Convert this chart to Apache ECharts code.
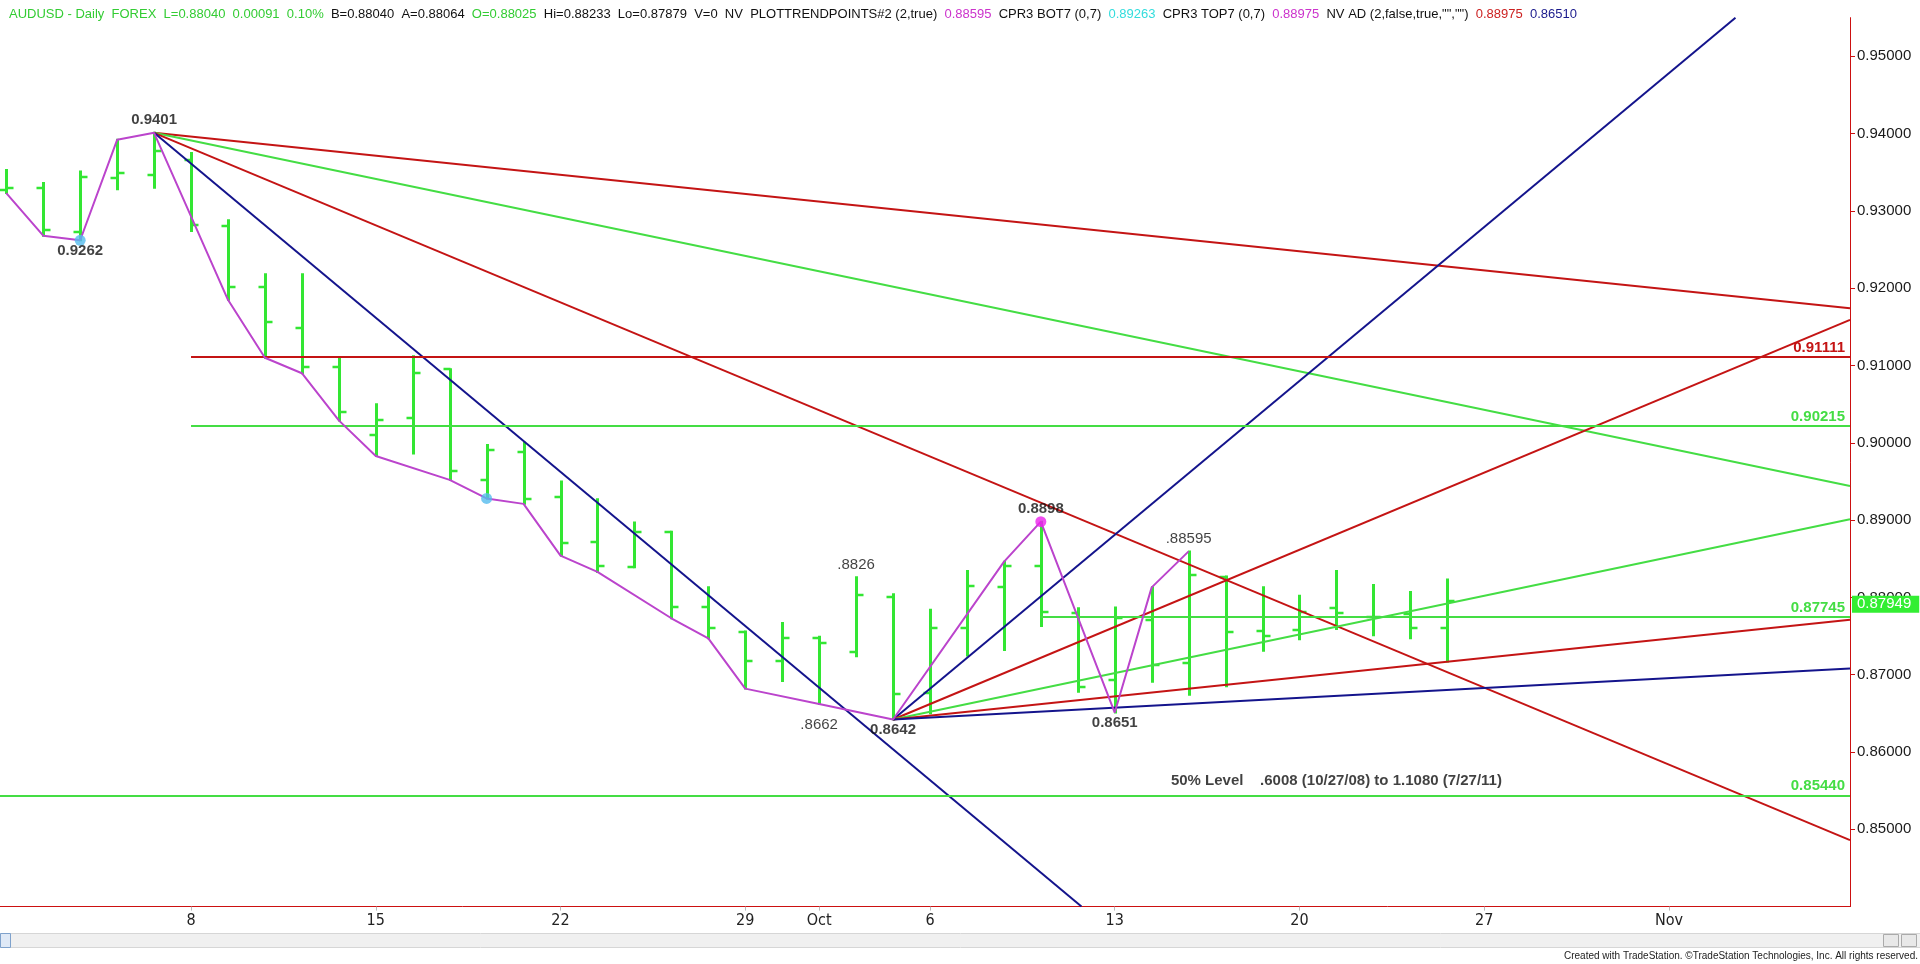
<!DOCTYPE html>
<html><head><meta charset="utf-8">
<script src="https://cdn.jsdelivr.net/npm/echarts@6/dist/echarts.min.js"></script>
<style>html,body{margin:0;padding:0;background:#fff;overflow:hidden}#c{width:1920px;height:964px}</style>
</head><body><div id="c"></div>
<script>
// ---- data: daily AUDUSD bars, index 0 = Sep 1 (trading-day index) ----
const opens  = [0.9327,0.9330,0.9273,0.9343,0.9347,0.9366,0.9280,0.9202,0.9149,0.9098,
                0.9010,0.9032,0.9095,0.8952,0.8988,0.8930,0.8872,0.8839,0.8885,0.8788,
                0.8755,0.8718,0.8747,0.8730,0.8801,0.8676,0.8761,0.8814,0.8841,0.8780,
                0.8693,0.8771,0.8715,0.8826,0.8756,0.8758,0.8786,0.8775,0.8779,0.8760];
const highs  = [0.9353,0.9336,0.9351,0.9392,0.9401,0.9375,0.9288,0.9218,0.9218,0.9111,
                0.9050,0.9112,0.9095,0.8997,0.9000,0.8950,0.8927,0.8897,0.8885,0.8813,
                0.8756,0.8767,0.8749,0.8826,0.8804,0.8784,0.8834,0.8846,0.8898,0.8786,
                0.8787,0.8813,0.88595,0.8827,0.8813,0.8802,0.8834,0.8816,0.8807,0.8823];
const lows   = [0.9323,0.9268,0.9262,0.9328,0.9330,0.9274,0.9185,0.9110,0.9090,0.9029,
                0.8983,0.8986,0.8952,0.8928,0.8921,0.8854,0.8833,0.8839,0.8773,0.8747,
                0.8682,0.8692,0.8662,0.8724,0.8642,0.8650,0.8725,0.8732,0.8763,0.8678,
                0.8651,0.8691,0.8674,0.8685,0.8731,0.8746,0.8759,0.8751,0.8747,0.8717];
const closes = [0.9330,0.9275,0.9344,0.9349,0.9377,0.9282,0.9201,0.9156,0.9098,0.9040,
                0.9029,0.9090,0.8963,0.8991,0.8927,0.8871,0.8841,0.8885,0.8788,0.8761,
                0.8718,0.8747,0.8741,0.8803,0.8675,0.8761,0.8815,0.8841,0.8781,0.8684,
                0.8773,0.8713,0.8829,0.8755,0.8750,0.8781,0.8780,0.8775,0.8761,0.87949];

const xTickIdx    = [5,10,15,20,22,25,30,35,40,45];
const xTickLabels = ['8','15','22','29','Oct','6','13','20','27','Nov'];
const yTicks      = [0.85,0.86,0.87,0.88,0.89,0.90,0.91,0.92,0.93,0.94,0.95];

// swing (zig-zag) points
const zzIdx = [0,1,2,3,4,6,7,8,9,10,12,13,14,15,16,18,19,20,22,24,27,28,30,31,32];
const zzVal = [0.9323,0.9268,0.9262,0.9392,0.9401,0.9185,0.9110,0.9090,0.9029,0.8983,
               0.8952,0.8928,0.8921,0.8854,0.8833,0.8773,0.8747,0.8682,0.8662,0.8642,
               0.8846,0.8898,0.8651,0.8813,0.88595];

// fan lines: from the 0.9401 top and from the 0.8642 bottom
const highAnchor = [4, 0.9401];
const highFanEnds = [[49.9,0.9174],[49.9,0.8944],[49.9,0.8486],[29.1,0.84]];
const lowAnchor = [24, 0.8642];
const lowFanEnds = [[46.8,0.955],[49.9,0.9159],[49.9,0.8901],[49.9,0.8771],[49.9,0.8708]];

// horizontal levels
const levelValues = [0.91111, 0.90215, 0.87745, 0.85440];
const levelStart  = [5, 5, 28, -0.17];

// swing labels
const annIdx   = [4, 2, 23, 22, 24, 28, 32, 30];
const annVal   = [0.9401, 0.9262, 0.8826, 0.8662, 0.8642, 0.8898, 0.88595, 0.8651];
const annText  = ['0.9401','0.9262','.8826','.8662','0.8642','0.8898','.88595','0.8651'];
const annAbove = [true, false, true, false, false, true, true, false];

const cyanDots    = [[2,0.9262],[13,0.8928]];
const magentaDots = [[28,0.8898]];
const noteText = '50% Level    .6008 (10/27/08) to 1.1080 (7/27/11)';
const notePos  = [36.0, 0.85625];

// ---- styles ----
const X_MIN = -0.17, X_MAX = 49.9, Y_MIN = 0.84, Y_MAX = 0.955;
const BAR = '#33e633', GREEN = '#44dd44', RED = '#c41414', BLUE = '#14148c', MAG = '#bb44cc';
const AXIS = '#cc1111';
const FONT = "'Liberation Sans', Arial, sans-serif";
const NARROW = "'Liberation Sans Narrow', 'DejaVu Sans Condensed', 'Liberation Sans', sans-serif";
const highFanColors = [RED, GREEN, RED, BLUE];
const lowFanColors  = [BLUE, RED, GREEN, RED, BLUE];
const levelColors   = [RED, GREEN, GREEN, GREEN];

const chart = echarts.init(document.getElementById('c'), null, {renderer: 'canvas'});
const ohlc = opens.map((o, i) => [i, o, highs[i], lows[i], closes[i]]);
const lastClose = closes[closes.length - 1];

const series = [];
series.push({
  type: 'custom', z: 2, clip: true, silent: true,
  data: ohlc, encode: {x: 0, y: [1,2,3,4]},
  renderItem: function (params, api) {
    const i = api.value(0);
    const o = api.coord([i, api.value(1)]);
    const h = api.coord([i, api.value(2)]);
    const l = api.coord([i, api.value(3)]);
    const c = api.coord([i, api.value(4)]);
    const x = Math.round(h[0]) + 0.5;
    const st = {stroke: BAR, lineWidth: 3};
    return {type: 'group', children: [
      {type: 'line', shape: {x1: x, y1: h[1] - 1, x2: x, y2: l[1] + 1}, style: st},
      {type: 'line', shape: {x1: x - 7, y1: Math.round(o[1]), x2: x, y2: Math.round(o[1])}, style: {stroke: BAR, lineWidth: 2.5}},
      {type: 'line', shape: {x1: x, y1: Math.round(c[1]), x2: x + 7, y2: Math.round(c[1])}, style: {stroke: BAR, lineWidth: 2.5}}
    ]};
  }
});

// horizontal levels with right-end labels
levelValues.forEach((v, k) => {
  series.push({
    type: 'line', data: [], z: 3, silent: true,
    markLine: {
      symbol: 'none', silent: true, animation: false,
      lineStyle: {color: levelColors[k], width: 2, type: 'solid'},
      label: {show: true, position: 'insideEndTop', distance: [5, 2], formatter: v.toFixed(5),
              color: levelColors[k], fontFamily: FONT, fontSize: 15, fontWeight: 'bold'},
      data: [[{coord: [levelStart[k], v]}, {coord: [X_MAX, v]}]]
    }
  });
});

highFanEnds.forEach((e, k) => {
  series.push({type: 'line', data: [highAnchor, e], symbol: 'none', z: 4, silent: true,
    lineStyle: {color: highFanColors[k], width: 2}});
});
lowFanEnds.forEach((e, k) => {
  series.push({type: 'line', data: [lowAnchor, e], symbol: 'none', z: 4, silent: true,
    lineStyle: {color: lowFanColors[k], width: 2}});
});

series.push({type: 'line', data: zzIdx.map((x, k) => [x, zzVal[k]]), symbol: 'none', z: 5, silent: true,
  lineStyle: {color: MAG, width: 2}});

series.push({type: 'scatter', data: cyanDots, symbolSize: 11, z: 6, silent: true,
  itemStyle: {color: '#55bbee'}});
series.push({type: 'scatter', data: magentaDots, symbolSize: 11, z: 6, silent: true,
  itemStyle: {color: '#ee22ee'}});

// swing labels
series.push({
  type: 'scatter', symbolSize: 0, z: 7, silent: true,
  data: annIdx.map((x, k) => ({
    value: [x, annVal[k]],
    label: {
      show: true, formatter: annText[k],
      position: annAbove[k] ? 'top' : 'bottom',
      distance: annText[k] === '.8662' ? 13 : (annAbove[k] ? 5 : 3),
      fontWeight: annText[k].charAt(0) === '.' ? 'normal' : 'bold'
    }
  })),
  label: {color: '#111', fontFamily: FONT, fontSize: 15}
});

// last close box on the price axis
series.push({
  type: 'line', data: [], z: 20, silent: true, clip: false,
  markLine: {
    symbol: 'none', silent: true, animation: false,
    lineStyle: {color: 'rgba(255,255,255,0)', width: 0},
    label: {show: true, position: 'end', distance: 2, offset: [0, 3], formatter: lastClose.toFixed(5),
            color: '#ffffff', backgroundColor: '#33ee33', padding: [1, 8, 1, 5],
            fontFamily: FONT, fontSize: 15, opacity: 1},
    data: [[{coord: [X_MAX - 1, lastClose]}, {coord: [X_MAX, lastClose]}]]
  }
});
// 50% note
series.push({
  type: 'scatter', symbolSize: 0, z: 7, silent: true,
  data: [{value: notePos, label: {show: true, position: 'inside', formatter: noteText,
    color: '#111', fontFamily: FONT, fontSize: 15, fontWeight: 'bold'}}]
});

const option = {
  backgroundColor: '#fff',
  animation: false,
  title: {
    left: 4, top: 3,
    text: '{g|AUDUSD - Daily  FOREX  L=0.88040  0.00091  0.10%}{k|  B=0.88040  A=0.88064  }{g|O=0.88025}' +
          '{k|  Hi=0.88233  Lo=0.87879  V=0  NV  PLOTTRENDPOINTS#2 (2,true)  }{m|0.88595}{k|  CPR3 BOT7 (0,7)  }' +
          '{c|0.89263}{k|  CPR3 TOP7 (0,7)  }{m|0.88975}{k|  NV AD (2,false,true,"","")  }{r|0.88975}{b|  0.86510}',
    textStyle: {
      fontFamily: FONT, fontSize: 13, fontWeight: 'normal',
      rich: {
        g: {color: '#33cc33', fontFamily: FONT, fontSize: 13},
        k: {color: '#111', fontFamily: FONT, fontSize: 13},
        m: {color: '#cc33cc', fontFamily: FONT, fontSize: 13},
        c: {color: '#33dddd', fontFamily: FONT, fontSize: 13},
        r: {color: '#cc2222', fontFamily: FONT, fontSize: 13},
        b: {color: '#1a1a8c', fontFamily: FONT, fontSize: 13}
      }
    }
  },
  grid: {left: 0, right: 70, top: 17.65, bottom: 57.4, containLabel: false},
  xAxis: {
    type: 'value', min: X_MIN, max: X_MAX,
    axisLine: {show: true, onZero: false, lineStyle: {color: AXIS, width: 1}},
    axisTick: {show: true, customValues: xTickIdx, length: 4, lineStyle: {color: '#bbb'}},
    axisLabel: {customValues: xTickIdx, margin: 6, color: '#222', fontFamily: NARROW, fontSize: 16,
      formatter: v => xTickLabels[xTickIdx.indexOf(v)]},
    splitLine: {show: false}
  },
  yAxis: {
    type: 'value', position: 'right', min: Y_MIN, max: Y_MAX,
    axisLine: {show: true, onZero: false, lineStyle: {color: AXIS, width: 1}},
    axisTick: {show: true, customValues: yTicks, length: 5, inside: false, lineStyle: {color: AXIS}},
    axisLabel: {customValues: yTicks, margin: 7, color: '#1a1a1a', fontFamily: FONT, fontSize: 15,
      formatter: v => v.toFixed(5)},
    splitLine: {show: false}
  },
  series: series,
  graphic: [
    {type: 'rect', left: 0, top: 933, shape: {width: 1920, height: 14}, style: {fill: '#f0f0f0', stroke: '#d6d6d6'}, z: 1},
    {type: 'rect', left: 0, top: 933, shape: {width: 10, height: 14}, style: {fill: '#dfe9f6', stroke: '#7fa2cc'}, z: 2},
    {type: 'rect', left: 1883, top: 934, shape: {width: 15, height: 12}, style: {fill: '#e8e8e8', stroke: '#aaa'}, z: 2},
    {type: 'rect', left: 1901, top: 934, shape: {width: 15, height: 12}, style: {fill: '#e8e8e8', stroke: '#aaa'}, z: 2},
    {type: 'text', right: 2, top: 951, z: 2,
      style: {text: 'Created with TradeStation. \u00A9TradeStation Technologies, Inc. All rights reserved.',
        fill: '#222', font: "10px 'Liberation Sans Narrow', 'Liberation Sans', sans-serif"}}
  ]
};
chart.setOption(option);
</script>
</body></html>
